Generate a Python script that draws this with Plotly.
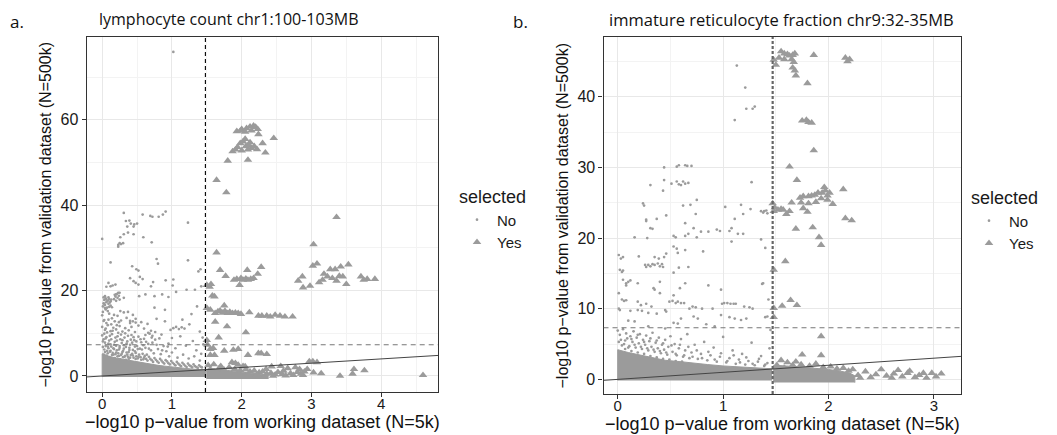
import plotly.graph_objects as go

# ---------------- text ----------------
a_title = "lymphocyte count chr1:100-103MB"
b_title = "immature reticulocyte fraction chr9:32-35MB"
x_label = "−log10 p−value from working dataset (N=5k)"
y_label = "−log10 p−value from validation dataset (N=500k)"
legend_title = "selected"
legend_names = ["No", "Yes"]
panel_tags = ["a.", "b."]

# ---------------- reference values ----------------
a_threshold_x = 1.48
b_threshold_x = 1.47
gw_threshold_y = 7.3          # genome-wide significance, -log10(5e-8)

a_xticks = [0, 1, 2, 3, 4]
a_yticks = [0, 20, 40, 60]
b_xticks = [0, 1, 2, 3]
b_yticks = [0, 10, 20, 30, 40]

a_xrange = [-0.222, 4.815]
a_yrange = [-3.75, 79.4]
b_xrange = [-0.135, 3.257]
b_yrange = [-2.07, 48.45]

# ---------------- panel a data ----------------
# outline of the solid mass of unselected points (No) near the origin
a_no_mass = [(0, -0.25), (0, 5.2), (0.05, 4.9), (0.1, 4.6), (0.2, 4.2), (0.3, 3.9), (0.4, 3.6),
             (0.5, 3.3), (0.6, 3.0), (0.7, 2.7), (0.8, 2.5), (0.9, 2.3), (1.0, 2.1), (1.1, 1.9),
             (1.2, 1.8), (1.3, 1.6), (1.4, 1.5), (1.48, 1.4), (1.48, -0.25)]
# individual unselected points
a_no_pts = [
    (1.02, 75.9),
    (0.31, 38.2), (0.58, 37.8), (0.69, 37.5), (0.72, 37.3), (0.81, 37.3), (0.87, 37.8), (0.91, 38.5),
    (0.34, 36.3), (0.39, 36.4), (0.41, 35.7), (0.46, 35.5), (0.50, 35.7), (0.36, 35.0), (0.45, 35.0),
    (1.23, 35.9), (0.31, 33.2), (0.37, 33.6), (0.45, 33.2), (0.00, 32.1), (0.26, 32.5), (0.59, 32.5),
    (0.71, 31.3), (0.23, 30.7), (0.25, 31.1), (0.27, 30.9), (0.30, 31.1), (0.23, 30.3), (0.12, 26.6),
    (0.78, 27.4), (0.80, 26.3), (1.23, 27.1), (0.43, 25.7), (0.49, 25.0), (0.52, 24.7), (1.38, 24.5),
    (1.41, 25.0), (0.40, 22.9), (0.54, 23.2), (0.58, 22.7), (0.45, 22.2), (0.48, 21.8), (0.52, 21.4),
    (0.73, 22.0), (0.91, 22.4), (1.02, 22.6), (1.01, 21.2), (1.06, 19.7), (0.70, 21.0), (0.09, 21.8),
    (0.06, 20.9), (0.12, 21.0), (0.15, 21.2), (0.19, 21.4), (0.04, 18.7), (0.20, 19.1), (0.25, 19.5),
    (0.31, 18.3), (0.53, 18.7), (0.62, 19.1), (0.75, 18.7), (0.86, 19.1), (0.95, 18.5), (1.21, 20.2),
    (1.33, 20.2), (1.42, 21.0),
    (0.01, 16.3), (0.02, 17.0), (0.03, 17.8), (0.04, 16.6), (0.05, 18.2), (0.06, 17.3), (0.07, 16.0),
    (0.08, 17.6), (0.09, 16.9), (0.10, 18.0), (0.11, 17.2), (0.12, 16.5), (0.13, 17.9), (0.02, 18.4),
    (0.05, 15.6), (0.08, 15.2), (0.14, 16.1), (0.01, 15.0), (0.17, 18.0), (0.19, 18.6), (0.21, 19.2),
    (0.22, 18.3), (0.24, 18.8), (0.20, 17.6), (0.25, 17.9), (0.23, 19.5), (0.18, 19.0),
    (0.03, 16.9), (0.06, 17.9), (0.09, 18.4), (0.12, 17.5), (0.04, 15.9), (0.10, 16.2),
    (0.00, 14.2), (0.03, 13.1), (0.06, 12.4), (0.10, 14.6), (0.14, 13.5), (0.18, 12.8), (0.22, 14.1),
    (0.27, 13.0), (0.31, 14.9), (0.35, 13.6), (0.40, 12.9), (0.44, 14.3), (0.48, 13.4), (0.26, 15.2),
    (0.37, 15.0), (0.00, 11.5), (0.04, 10.8), (0.08, 11.9), (0.12, 10.5), (0.16, 11.3), (0.20, 10.9),
    (0.25, 11.7), (0.29, 10.4), (0.33, 11.2), (0.38, 10.7), (0.42, 11.5), (0.47, 10.3), (0.52, 11.8),
    (0.56, 12.6), (0.60, 11.1), (0.65, 12.2), (0.70, 10.6), (0.40, 12.4), (0.44, 12.8), (0.48, 12.5),
    (0.02, 12.9), (0.05, 11.1), (0.09, 13.2), (0.13, 12.1), (0.17, 14.3), (0.21, 11.9), (0.24, 12.6),
    (1.02, 11.2), (1.06, 11.5), (1.10, 11.0), (1.14, 11.4), (1.18, 11.1), (0.98, 10.8),
    (0.62, 9.6), (0.66, 10.1), (0.72, 9.4), (0.76, 10.3),
    (0.78, 13.4), (0.85, 9.7), (0.90, 12.8), (0.95, 7.6), (1.00, 8.9), (1.05, 6.5), (1.12, 9.3),
    (1.20, 7.1), (1.25, 12.1), (1.30, 8.2), (1.35, 6.0), (1.40, 10.4), (1.42, 5.2), (1.45, 7.4),
    (1.28, 14.5), (1.15, 13.2), (0.90, 15.5), (0.75, 16.0), (1.36, 16.3), (1.44, 9.0),
    (0.00, 9.5), (0.02, 8.6), (0.04, 7.8), (0.06, 9.1), (0.08, 6.9), (0.10, 8.3), (0.12, 7.4),
    (0.14, 9.8), (0.16, 6.5), (0.18, 8.0), (0.20, 7.1), (0.22, 9.3), (0.24, 6.2), (0.26, 8.6),
    (0.28, 7.7), (0.30, 5.9), (0.32, 9.0), (0.34, 6.8), (0.36, 8.1), (0.38, 5.6), (0.40, 7.3),
    (0.42, 9.6), (0.44, 6.1), (0.46, 8.4), (0.48, 5.4), (0.50, 7.0), (0.52, 9.2), (0.54, 6.4),
    (0.56, 7.9), (0.58, 5.2), (0.60, 8.7), (0.62, 6.6), (0.64, 5.0), (0.66, 7.5), (0.68, 9.9),
    (0.70, 6.0), (0.72, 7.8), (0.74, 5.3), (0.76, 8.5), (0.80, 6.3), (0.84, 5.1), (0.88, 7.0),
    (0.92, 5.8), (0.96, 4.6), (1.00, 5.5), (1.08, 4.3), (1.16, 5.0), (1.24, 4.1), (1.32, 4.6),
    (1.40, 3.6),
    (0.01, 8.1), (0.03, 9.9), (0.05, 8.8), (0.07, 10.2), (0.09, 7.6), (0.11, 9.4), (0.13, 8.6),
    (0.15, 10.6), (0.17, 7.3), (0.19, 9.0), (0.21, 8.3), (0.23, 10.1), (0.25, 7.0), (0.27, 9.7),
    (0.29, 8.4), (0.31, 7.2), (0.33, 10.0), (0.35, 7.6), (0.37, 9.4), (0.39, 6.6), (0.41, 8.5),
    (0.43, 7.8), (0.45, 9.1), (0.47, 6.9), (0.49, 8.1), (0.51, 6.3), (0.55, 8.6), (0.59, 7.2),
    (0.63, 8.0), (0.67, 6.4), (0.71, 9.0), (0.78, 7.3), (0.82, 8.8), (0.86, 6.0), (0.94, 6.9),
    (0.01, 6.8), (0.03, 6.2), (0.05, 7.0), (0.07, 5.9), (0.09, 6.5), (0.11, 5.7), (0.13, 6.9),
    (0.15, 5.4), (0.17, 6.3), (0.19, 5.1), (0.21, 6.0), (0.23, 5.3), (0.25, 6.6), (0.27, 4.9),
    (0.29, 5.6), (0.31, 6.4), (0.33, 4.7), (0.35, 5.5), (0.37, 4.5), (0.39, 6.1), (0.41, 4.9),
    (0.43, 5.2), (0.45, 4.3), (0.47, 5.8), (0.49, 4.6), (0.51, 4.1), (0.53, 5.0), (0.55, 4.4),
    (0.57, 6.2), (0.59, 3.9), (0.61, 4.7), (0.63, 4.0), (0.67, 4.5), (0.71, 3.7), (0.75, 4.2),
    (0.79, 3.4), (0.83, 4.0), (0.87, 3.2), (0.91, 3.7), (0.95, 3.0), (0.99, 3.5), (1.03, 2.8),
    (1.07, 3.3), (1.11, 2.6), (1.15, 3.1), (1.19, 2.4), (1.23, 2.9), (1.27, 2.3), (1.31, 2.7),
    (1.35, 2.1), (1.39, 2.5), (1.43, 2.0), (0.02, 5.0), (0.06, 4.8), (0.10, 4.4), (0.14, 4.9),
    (0.18, 4.2), (0.22, 4.6), (0.26, 3.9), (0.30, 4.4), (0.34, 3.8), (0.38, 4.0),
    (0.04, 5.6), (0.08, 5.3), (0.12, 5.9), (0.16, 5.0), (0.20, 5.5), (0.24, 4.7), (0.28, 5.2),
    (0.32, 4.5), (0.36, 5.0), (0.40, 4.3), (0.44, 4.8), (0.48, 4.0), (0.52, 4.5), (0.56, 3.8),
    (0.60, 4.3), (0.65, 3.6), (0.69, 4.0), (0.73, 3.3), (0.77, 3.8), (0.81, 3.1), (0.85, 3.6),
    (0.89, 2.9), (0.93, 3.4), (0.97, 2.7), (1.01, 3.1), (1.05, 2.5), (1.09, 2.9), (1.13, 2.3),
    (1.17, 2.7), (1.21, 2.1), (1.25, 2.5), (1.29, 2.0), (1.33, 2.3), (1.37, 1.9), (1.41, 2.2),
]
# outline of the solid mass of selected points (Yes) just right of the threshold
a_yes_mass = [(1.50, -0.7), (1.50, 1.6), (1.60, 1.7), (1.70, 1.4), (1.80, 1.3), (1.90, 1.1),
              (2.00, 1.0), (2.10, 0.8), (2.20, 0.6), (2.30, 0.4), (2.38, 0.2), (2.38, -0.7)]
a_yes_pts = [
    (1.93, 57.3), (2.00, 57.8), (2.07, 58.0), (2.12, 58.4), (2.17, 58.6), (2.20, 58.3), (2.14, 57.5),
    (2.05, 57.2), (1.98, 57.4), (2.23, 57.8), (2.24, 56.6), (2.46, 55.7),
    (1.87, 52.6), (1.91, 53.0), (1.94, 53.6), (1.98, 54.5), (2.02, 54.9), (2.05, 55.5), (2.06, 53.8),
    (2.10, 54.1), (2.14, 53.4), (2.18, 53.8), (2.22, 53.1), (2.00, 52.8), (2.09, 53.0), (2.12, 54.7),
    (2.30, 54.5), (2.34, 52.3), (2.09, 50.6), (1.80, 50.4), (1.64, 45.9), (1.78, 43.0),
    (3.36, 37.2), (3.03, 30.8), (1.64, 28.9), (3.08, 26.3), (3.02, 25.8), (2.87, 23.3), (2.81, 22.3),
    (2.88, 20.7), (2.98, 21.1), (3.11, 21.9), (3.16, 22.5), (3.18, 23.9), (3.23, 23.3), (3.27, 25.0),
    (3.34, 25.0), (3.30, 22.9), (3.36, 22.3), (3.40, 23.4), (3.45, 23.3), (3.42, 25.6), (3.50, 21.5),
    (3.53, 26.1), (3.71, 23.3), (3.75, 22.5), (3.80, 22.7), (3.91, 22.7),
    (1.89, 22.5), (1.97, 21.3), (1.93, 22.7), (1.99, 22.9), (2.02, 22.5), (2.06, 22.8), (2.09, 22.5),
    (2.13, 22.7), (2.17, 22.9), (2.08, 24.8), (2.23, 23.9), (2.28, 25.5), (1.69, 24.8), (1.77, 23.4),
    (1.50, 21.3), (1.54, 20.9), (1.56, 21.5), (1.58, 18.8), (1.61, 18.6), (1.50, 15.9), (1.55, 15.5),
    (1.62, 14.7), (1.66, 15.1), (1.69, 15.3), (1.73, 14.8), (1.76, 15.2), (1.80, 14.7), (1.83, 15.0),
    (1.87, 14.7), (1.91, 14.8), (1.95, 14.7), (1.99, 14.5), (1.75, 16.5), (2.11, 14.9), (2.24, 14.1),
    (2.29, 14.1), (2.36, 14.1), (2.41, 13.9), (2.48, 14.3), (2.55, 14.1), (2.62, 13.9), (2.73, 13.9),
    (1.62, 12.7), (1.79, 11.6), (2.06, 10.2), (1.50, 8.4), (1.67, 9.0), (1.51, 7.3), (1.55, 6.3),
    (1.59, 6.5), (1.55, 4.9), (1.61, 4.9), (1.75, 5.9), (1.88, 6.1), (1.95, 6.3), (2.09, 4.9),
    (2.24, 5.3), (2.28, 5.3), (2.36, 5.1),
    (1.60, 2.7), (1.86, 3.2), (1.91, 3.0), (1.95, 2.6), (2.02, 2.3), (2.43, 2.2), (2.56, 2.3),
    (2.66, 1.8), (2.77, 2.0), (2.83, 1.6), (2.97, 3.4), (3.02, 3.4), (3.08, 3.2), (2.94, 1.6),
    (3.03, 0.8), (3.14, 0.6), (2.88, 0.2), (3.41, 0.0), (3.59, 0.5), (3.61, 1.6), (3.76, 1.3),
    (4.60, 0.2),
    (1.52, 2.5), (1.55, 1.5), (1.68, 1.8), (1.75, 1.4), (1.82, 2.0), (1.90, 1.6), (1.98, 1.3),
    (2.06, 1.5), (2.12, 1.0), (2.18, 1.2), (2.25, 0.8), (2.30, 1.0), (2.36, 0.5), (2.42, 0.7),
    (2.48, 0.3), (2.52, 0.9), (2.58, 0.4), (2.63, 0.1), (2.70, 0.6), (2.74, 0.2), (2.80, 0.9),
    (2.85, 0.5), (2.90, 1.0), (2.22, 0.3), (2.45, 0.0), (2.60, 1.2), (2.35, 1.6), (2.05, 2.2),
    (1.70, 2.3),
]

# ---------------- panel b data ----------------
b_no_mass = [(0, -0.15), (0, 4.2), (0.1, 3.8), (0.2, 3.5), (0.3, 3.1), (0.45, 2.7), (0.6, 2.5),
             (0.7, 2.3), (0.85, 2.1), (1.0, 1.9), (1.2, 1.7), (1.46, 1.5), (1.46, -0.15)]
b_no_pts = [
    (1.13, 44.4), (1.21, 41.3), (1.22, 38.3), (1.28, 38.3), (1.30, 38.6), (1.11, 36.7),
    (0.44, 30.0), (0.56, 30.1), (0.58, 30.3), (0.64, 30.3), (0.66, 30.2), (0.70, 30.2),
    (0.31, 27.5), (0.44, 28.2), (0.51, 27.7), (0.56, 28.0), (0.58, 27.6), (0.60, 27.5), (0.62, 28.0),
    (0.64, 27.7), (0.67, 27.8), (0.43, 26.7), (1.27, 27.9), (0.24, 24.9), (0.25, 24.6), (0.62, 24.6),
    (0.69, 24.7), (0.75, 25.4), (0.46, 23.2), (0.64, 22.1), (0.74, 23.4), (0.27, 22.6), (0.27, 22.4),
    (0.37, 22.7), (0.31, 21.4), (0.33, 21.3), (0.72, 21.4), (0.79, 20.9), (0.86, 20.9), (0.94, 21.2),
    (0.97, 21.0), (1.06, 21.0), (1.08, 21.4), (1.11, 22.7), (1.02, 24.4), (1.17, 24.7), (1.19, 23.4),
    (1.26, 24.1), (1.36, 23.8), (1.38, 23.6), (1.42, 23.5), (0.16, 20.1), (0.28, 20.0), (0.53, 20.3),
    (0.55, 20.1), (0.64, 20.3), (0.67, 20.6), (0.75, 20.1), (1.14, 20.6), (1.19, 20.6),
    (1.39, 23.8), (1.41, 23.9), (1.36, 19.8), (1.40, 18.6), (1.38, 13.6), (1.40, 8.8), (1.43, 11.3),
    (0.53, 18.8), (0.56, 18.5), (0.57, 17.9), (0.64, 18.3), (0.46, 17.8), (0.01, 17.6), (0.03, 17.1),
    (0.05, 17.3), (0.20, 17.4), (0.35, 17.3), (0.39, 17.1), (0.44, 17.3), (0.26, 16.2), (0.27, 15.9),
    (0.29, 16.2), (0.31, 16.0), (0.33, 16.3), (0.35, 16.2), (0.38, 16.4), (0.40, 16.0), (0.42, 16.3),
    (0.43, 15.9), (0.67, 15.9), (0.02, 15.5), (0.04, 15.2), (0.05, 15.4), (0.53, 15.1), (0.58, 15.8),
    (0.81, 18.1), (1.08, 19.5), (1.37, 13.5), (0.05, 14.1), (0.08, 13.6), (0.10, 13.8), (0.12, 14.0),
    (0.08, 13.3), (0.19, 13.6), (0.34, 12.9), (0.35, 12.7), (0.40, 13.8), (0.40, 12.2), (0.53, 11.9),
    (0.59, 12.9), (0.64, 13.6), (0.86, 13.3), (0.98, 12.7), (0.01, 12.2), (0.04, 11.3), (0.06, 11.1),
    (0.08, 11.2), (0.19, 11.0), (0.22, 10.5), (0.27, 10.7), (0.32, 10.3), (0.49, 11.0), (0.52, 11.1),
    (0.55, 10.8), (0.57, 11.0), (0.60, 10.8), (0.63, 10.8), (0.68, 10.0), (0.71, 10.3), (0.74, 10.2),
    (0.80, 10.0), (0.90, 10.0), (0.99, 10.7), (1.01, 10.8), (1.04, 10.8), (1.07, 10.7), (1.10, 10.7),
    (1.12, 10.7), (1.20, 10.3), (1.25, 10.2), (1.28, 10.0), (0.01, 10.0), (0.02, 9.8), (0.12, 9.7),
    (0.19, 9.8), (0.23, 9.7), (0.29, 9.4), (0.37, 9.3), (0.45, 9.8), (0.46, 9.6), (0.10, 8.3),
    (0.16, 8.2), (0.53, 8.0), (0.57, 7.9), (0.60, 8.6), (0.72, 8.9), (0.76, 8.6), (0.98, 9.1),
    (1.06, 8.8), (1.11, 8.6), (1.17, 8.4), (1.22, 8.6), (0.84, 7.8), (0.92, 7.5), (1.42, 8.9),
    (1.45, 7.0), (0.29, 7.5), (0.45, 7.2),
    (0.00, 6.9), (0.02, 6.3), (0.03, 5.6), (0.05, 7.1), (0.06, 5.0), (0.08, 6.5), (0.09, 5.8),
    (0.11, 4.7), (0.12, 6.1), (0.14, 5.3), (0.15, 6.8), (0.17, 4.5), (0.18, 5.9), (0.20, 5.1),
    (0.21, 6.4), (0.23, 4.3), (0.24, 5.6), (0.26, 4.9), (0.27, 6.2), (0.29, 4.1), (0.30, 5.4),
    (0.32, 4.6), (0.33, 6.6), (0.35, 3.9), (0.36, 5.2), (0.38, 4.4), (0.39, 5.9), (0.41, 3.7),
    (0.42, 4.9), (0.44, 4.2), (0.45, 5.6), (0.47, 3.5), (0.48, 4.6), (0.50, 6.1), (0.52, 3.9),
    (0.54, 5.0), (0.56, 3.4), (0.58, 4.4), (0.60, 5.7), (0.62, 3.2), (0.64, 4.1), (0.66, 6.4),
    (0.68, 3.0), (0.70, 3.8), (0.73, 4.9), (0.76, 2.9), (0.79, 3.6), (0.82, 5.3), (0.85, 2.7),
    (0.88, 3.4), (0.91, 4.5), (0.94, 2.5), (0.97, 3.2), (1.00, 6.0), (1.03, 2.4), (1.06, 3.0),
    (1.09, 4.1), (1.12, 2.2), (1.15, 2.8), (1.18, 3.6), (1.21, 2.1), (1.24, 2.6), (1.27, 5.2),
    (1.30, 2.0), (1.33, 2.5), (1.36, 3.3), (1.39, 1.9), (1.42, 2.3), (1.44, 4.4), (0.07, 4.3),
    (0.13, 4.0), (0.19, 3.8), (0.25, 3.6), (0.31, 3.3), (0.37, 3.1), (0.43, 2.9), (0.49, 2.8),
    (0.55, 2.6), (0.61, 2.5),
    (0.01, 5.3), (0.04, 4.8), (0.07, 5.5), (0.10, 4.5), (0.13, 5.7), (0.16, 4.9), (0.19, 6.3),
    (0.22, 4.6), (0.25, 5.3), (0.28, 4.4), (0.31, 5.8), (0.34, 4.2), (0.37, 5.5), (0.40, 4.0),
    (0.43, 5.1), (0.46, 3.8), (0.51, 4.8), (0.55, 3.6), (0.59, 4.9), (0.63, 3.4), (0.67, 4.6),
    (0.71, 3.2), (0.75, 4.1), (0.80, 3.0), (0.86, 3.9), (0.92, 2.8), (0.98, 3.7), (1.04, 2.6),
    (1.10, 3.4), (1.16, 2.4), (1.22, 3.1), (1.28, 2.2), (1.34, 2.9), (1.40, 2.1),
]
b_yes_mass = [(1.48, -0.45), (1.48, 2.0), (1.60, 1.9), (1.70, 1.8), (1.80, 1.7), (1.90, 1.5),
              (2.00, 1.4), (2.10, 1.2), (2.20, 0.9), (2.25, 0.5), (2.25, -0.45)]
b_yes_pts = [
    (1.55, 46.4), (1.58, 46.1), (1.61, 46.0), (1.63, 45.8), (1.66, 45.9), (1.68, 46.1), (1.53, 45.5),
    (1.58, 45.3), (1.65, 45.3), (1.67, 44.9), (1.48, 45.2), (1.50, 44.5), (1.66, 44.1), (1.68, 43.7),
    (1.69, 43.0), (1.86, 45.9), (2.16, 45.5), (2.20, 45.3), (2.18, 45.0), (1.80, 41.9), (1.75, 36.6),
    (1.79, 36.7), (1.81, 36.4), (1.84, 36.3), (1.86, 32.4), (1.63, 30.1), (1.70, 28.2),
    (1.96, 27.2), (1.97, 26.7), (1.94, 26.4), (1.90, 26.4), (1.87, 26.1), (1.84, 26.0), (1.81, 25.9),
    (1.76, 25.9), (1.73, 25.7), (1.99, 26.0), (2.01, 26.4), (1.93, 25.6), (1.88, 25.1), (1.81, 24.9),
    (1.74, 25.0), (1.65, 25.0), (1.99, 25.4), (2.04, 24.8), (2.14, 26.9), (1.47, 24.9), (1.49, 24.3),
    (1.52, 24.0), (1.55, 24.1), (1.57, 24.0), (1.48, 23.8), (1.63, 23.8), (1.60, 23.4), (1.76, 24.2),
    (1.80, 23.7), (2.16, 22.8), (2.22, 22.5), (1.69, 21.3), (1.85, 21.5), (1.91, 20.1), (1.93, 19.0),
    (1.59, 16.7), (1.48, 15.5), (1.48, 10.1), (1.56, 10.4), (1.64, 11.2), (1.70, 10.5), (1.48, 8.8),
    (1.93, 6.1), (1.75, 3.5), (1.93, 3.4),
    (1.55, 2.7), (1.61, 2.4), (1.69, 2.5), (1.51, 2.0), (1.58, 1.6), (1.66, 2.0), (1.74, 2.1),
    (1.82, 1.9), (1.88, 2.2), (1.95, 1.7), (2.02, 1.8), (2.08, 1.5), (2.14, 1.6), (2.19, 1.2),
    (2.23, 1.4), (2.28, 0.6), (2.30, 0.2), (2.35, 1.1), (2.40, 0.3), (2.45, 0.7), (2.50, 1.4),
    (2.55, 0.5), (2.60, 0.2), (2.62, 0.8), (2.66, 1.3), (2.70, 0.4), (2.75, 0.9), (2.77, 1.2),
    (2.82, 0.3), (2.86, 0.6), (2.90, 0.9), (2.93, 0.2), (2.98, 0.9), (3.02, 0.4), (3.07, 0.8),
]

# ---------------- styling ----------------
GREY = "#9b9b9b"
AXIS_FONT = "Liberation Sans, Arial, sans-serif"
TITLE_FONT = "Open Sans, sans-serif"

# the page body adds an 8 px margin; size the figure so the canvas lines up with the window
PAGE_PAD = 8
W, H = 1057 - PAGE_PAD, 435 - PAGE_PAD


def fx(px):
    return (px - PAGE_PAD) / W


def fy(py):
    return 1 - (py - PAGE_PAD) / H


def xy(pts):
    return [p[0] for p in pts], [p[1] for p in pts]


fig = go.Figure()

panels = [
    ("x", "y", "legend", a_no_mass, a_no_pts, a_yes_mass, a_yes_pts),
    ("x2", "y2", "legend2", b_no_mass, b_no_pts, b_yes_mass, b_yes_pts),
]
for xa, ya, lg, no_mass, no_pts, yes_mass, yes_pts in panels:
    mx, my = xy(no_mass)
    fig.add_trace(go.Scatter(x=mx, y=my, xaxis=xa, yaxis=ya, mode="lines", fill="toself",
                             fillcolor=GREY, line=dict(color=GREY, width=1),
                             showlegend=False, hoverinfo="skip"))
    px_, py_ = xy(no_pts)
    fig.add_trace(go.Scatter(x=px_, y=py_, xaxis=xa, yaxis=ya, mode="markers",
                             name=legend_names[0], legend=lg,
                             marker=dict(symbol="circle", size=2.7, color=GREY, line=dict(width=0))))
    mx, my = xy(yes_mass)
    fig.add_trace(go.Scatter(x=mx, y=my, xaxis=xa, yaxis=ya, mode="lines", fill="toself",
                             fillcolor=GREY, line=dict(color=GREY, width=1),
                             showlegend=False, hoverinfo="skip"))
    px_, py_ = xy(yes_pts)
    fig.add_trace(go.Scatter(x=px_, y=py_, xaxis=xa, yaxis=ya, mode="markers",
                             name=legend_names[1], legend=lg,
                             marker=dict(symbol="triangle-up", size=7.5, color=GREY, line=dict(width=0))))

a_dom_x = [fx(86.7), fx(438)]
b_dom_x = [fx(603.5), fx(961)]
a_dom_y = [fy(392), fy(37)]
b_dom_y = [fy(394), fy(37)]


def axis(domain, rng, ticks, anchor, minor_dtick, standoff, size):
    return dict(domain=domain, range=rng, anchor=anchor, tickvals=ticks,
                ticks="outside", ticklen=4, tickwidth=1, tickcolor="#333333",
                showline=True, mirror=True, linecolor="#333333", linewidth=1.2,
                showgrid=True, gridcolor="#e8e8e8", gridwidth=1.2, zeroline=False,
                ticklabelstandoff=standoff,
                tickfont=dict(family=AXIS_FONT, size=size, color="#1a1a1a"),
                minor=dict(dtick=minor_dtick, tick0=0, showgrid=True,
                           gridcolor="#f3f3f3", gridwidth=0.8, ticks=""))


layout = dict(
    width=W, height=H, margin=dict(l=0, r=0, t=0, b=0),
    paper_bgcolor="white", plot_bgcolor="white",
    xaxis=axis(a_dom_x, a_xrange, a_xticks, "y", 0.5, -6, 15),
    yaxis=axis(a_dom_y, a_yrange, a_yticks, "x", 10, 0, 16),
    xaxis2=axis(b_dom_x, b_xrange, b_xticks, "y2", 0.5, -6, 15),
    yaxis2=axis(b_dom_y, b_yrange, b_yticks, "x2", 5, 0, 16),
)
leg_common = dict(bgcolor="rgba(0,0,0,0)", borderwidth=0, xanchor="left", yanchor="top",
                  font=dict(family=AXIS_FONT, size=15, color="#1a1a1a"),
                  title=dict(text=legend_title, font=dict(family=AXIS_FONT, size=18, color="#1a1a1a")),
                  itemsizing="trace", tracegroupgap=0)
layout["legend"] = dict(leg_common, x=fx(457), y=fy(180))
layout["legend2"] = dict(leg_common, x=fx(969), y=fy(181))
fig.update_layout(**layout)

# reference lines
shapes = []
for xr, yr, thr, xref, yref, vcol, vwidth, vdash in [
    (a_xrange, a_yrange, a_threshold_x, "x", "y", "#000000", 1.1, "4px,3px"),
    (b_xrange, b_yrange, b_threshold_x, "x2", "y2", "#666666", 2.2, "3px,2px"),
]:
    shapes.append(dict(type="line", xref=xref, yref=yref, x0=thr, x1=thr, y0=yr[0], y1=yr[1],
                       line=dict(color=vcol, width=vwidth, dash=vdash)))
    shapes.append(dict(type="line", xref=xref, yref=yref, x0=xr[0], x1=xr[1],
                       y0=gw_threshold_y, y1=gw_threshold_y,
                       line=dict(color="#777777", width=1.1, dash="5px,4px")))
    shapes.append(dict(type="line", xref=xref, yref=yref, x0=xr[0], x1=xr[1], y0=xr[0], y1=xr[1],
                       line=dict(color="#444444", width=1)))
fig.update_layout(shapes=shapes)


def label(text, px, py, family, size, angle=0):
    return dict(text=text, x=fx(px), y=fy(py), xref="paper", yref="paper", showarrow=False,
                xanchor="center", yanchor="middle", textangle=angle,
                font=dict(family=family, size=size, color="#111111"))


ann = [
    label(a_title, 229, 19, TITLE_FONT, 16),
    label(b_title, 781, 19, TITLE_FONT, 16.5),
    label(panel_tags[0], 17, 21, TITLE_FONT, 17),
    label(panel_tags[1], 520, 21, TITLE_FONT, 17),
    label(x_label, 262, 422, AXIS_FONT, 18),
    label(x_label, 782, 424, AXIS_FONT, 18),
    label(y_label, 45, (37 + 392) / 2, AXIS_FONT, 16, -90),
    label(y_label, 562, (37 + 394) / 2, AXIS_FONT, 16, -90),
]
fig.update_layout(annotations=ann)

fig.write_html("out.html")
